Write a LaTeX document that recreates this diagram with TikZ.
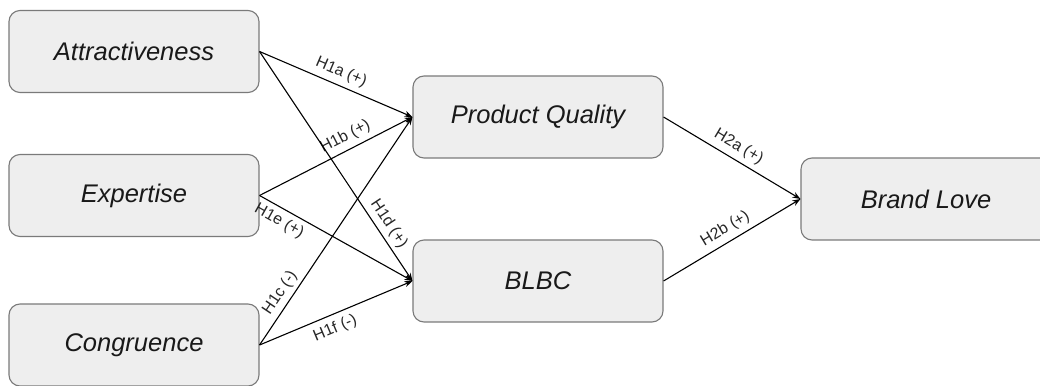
\documentclass[tikz,border=0pt]{standalone}
\usepackage{fontspec}
\setmainfont{Liberation Sans}
\usetikzlibrary{arrows.meta}
\definecolor{boxfill}{HTML}{EEEEEE}
\definecolor{boxdraw}{HTML}{7A7A7A}
\tikzset{
  constr/.style={draw=boxdraw, fill=boxfill, line width=1.1pt, rounded corners=11pt,
    minimum width=250pt, minimum height=82pt, inner sep=0pt,
    font=\fontsize{25.5}{29}\selectfont\itshape, text=black!90},
  link/.style={line width=1.1pt, -{Stealth[length=8pt,width=6pt]}},
  hlab/.style={sloped, font=\fontsize{16}{18}\selectfont, inner sep=2pt, text=black!85}
}
\begin{document}
\begin{tikzpicture}[x=1pt,y=-1pt]
\useasboundingbox (0,0) rectangle (1040,385);
\clip (0,0) rectangle (1040,385);
\node[constr] (att) at (134,51.5) {Attractiveness};
\node[constr] (exp) at (134,195.5) {Expertise};
\node[constr] (con) at (134,345) {Congruence};
\node[constr] (pq) at (538,117) {Product Quality};
\node[constr] (blbc) at (538,281) {BLBC};
\node[constr] (bl) at (926,199) {Brand Love};
\draw[link] (att.east) -- node[hlab, pos=0.5, above=3pt] {H1a (+)} (pq.west);
\draw[link] (exp.east) -- node[hlab, pos=0.6, above=3pt] {H1b (+)} (pq.west);
\draw[link] (con.east) -- node[hlab, pos=0.2, above=2pt] {H1c (-)} (pq.west);
\draw[link] (att.east) -- node[hlab, pos=0.78, above=2pt] {H1d (+)} (blbc.west);
\draw[link] (exp.east) -- node[hlab, pos=0.17, below=3pt] {H1e (+)} (blbc.west);
\draw[link] (con.east) -- node[hlab, pos=0.46, below=4pt] {H1f (-)} (blbc.west);
\draw[link] (pq.east) -- node[hlab, pos=0.5, above=3pt] {H2a (+)} (bl.west);
\draw[link] (blbc.east) -- node[hlab, pos=0.5, above=3pt] {H2b (+)} (bl.west);
\end{tikzpicture}
\end{document}
